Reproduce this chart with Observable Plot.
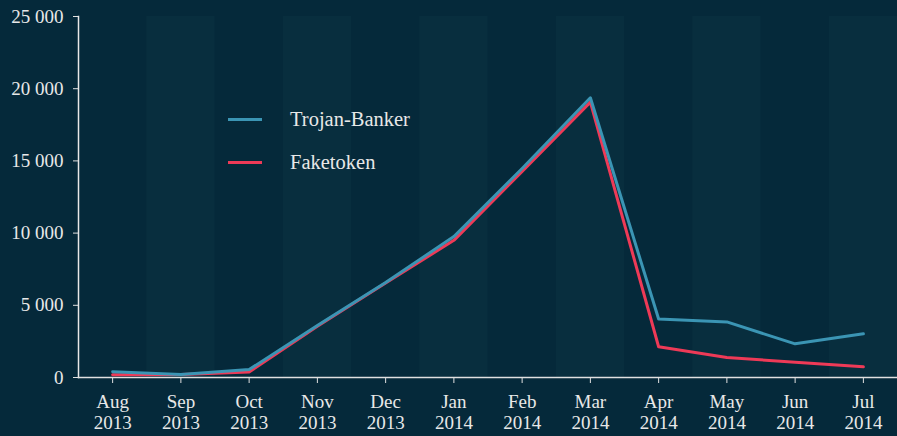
<!DOCTYPE html>
<html>
<head>
<meta charset="utf-8">
<script src="https://cdn.jsdelivr.net/npm/d3@7"></script>
<script src="https://cdn.jsdelivr.net/npm/@observablehq/plot@0.6"></script>
<style>
  html, body { margin: 0; padding: 0; background: #05293a; }
  #wrap { position: relative; width: 897px; height: 436px; overflow: hidden; }
  #legend { position: absolute; left: 228px; top: 98px; font-family: "Liberation Serif", "Times New Roman", serif; font-size: 20.5px; color: #e8e8e8; }
  .row { display: flex; align-items: center; height: 43px; }
  .sw { width: 34px; height: 3px; margin-right: 28px; }
</style>
</head>
<body>
<div id="wrap"></div>
<script>
const months = ["Aug","Sep","Oct","Nov","Dec","Jan","Feb","Mar","Apr","May","Jun","Jul"];
const years  = ["2013","2013","2013","2013","2013","2014","2014","2014","2014","2014","2014","2014"];
const trojanBanker = [400, 200, 550, 3600, 6580, 9760, 14470, 19370, 4050, 3850, 2330, 3030];
const faketoken    = [190, 200, 380, 3550, 6550, 9500, 14270, 19070, 2130, 1390, 1060, 740];
const yTicks = [0, 5000, 10000, 15000, 20000, 25000];
const seriesNames = ["Trojan-Banker", "Faketoken"];
const seriesColors = ["#3b95b4", "#ee3a57"];

const rows = [];
months.forEach((m, i) => {
  rows.push({i, series: seriesNames[1], value: faketoken[i]});
});
months.forEach((m, i) => {
  rows.push({i, series: seriesNames[0], value: trojanBanker[i]});
});
const bands = months.map((m, i) => ({i})).filter(d => d.i % 2 === 1);

const fmt = d3.formatLocale({thousands: " ", grouping: [3], decimal: ",", currency: ["", ""]}).format(",d");

const chart = Plot.plot({
  width: 897,
  height: 436,
  marginTop: 16,
  marginBottom: 59,
  marginLeft: 78,
  marginRight: 0,
  style: {background: "#05293a", fontFamily: "'Liberation Serif', 'Times New Roman', serif", fontSize: "19px", color: "#e8e8e8"},
  x: {domain: [-0.5, months.length - 0.5], axis: null},
  y: {domain: [0, 25000], axis: null},
  color: {domain: seriesNames, range: seriesColors},
  marks: [
    Plot.rect(bands, {x1: d => d.i - 0.5, x2: d => d.i + 0.5, y1: 0, y2: 25000, fill: "#082e3e"}),
    Plot.axisY({ticks: yTicks, tickFormat: fmt, tickSize: 5, tickPadding: 10, stroke: "#e0e0e0", fill: "#e8e8e8", label: null, fontSize: 19}),
    Plot.axisX({ticks: d3.range(months.length), tickFormat: i => months[i] + "\n" + years[i], tickSize: 6, tickPadding: 10, lineHeight: 1.1, stroke: "#e0e0e0", fill: "#e8e8e8", label: null, fontSize: 19}),
    Plot.frame({anchor: "left", stroke: "#e8e8e8", strokeWidth: 1.5}),
    Plot.frame({anchor: "bottom", stroke: "#e0e0e0", strokeWidth: 1.5}),
    Plot.line(rows, {x: "i", y: "value", z: "series", stroke: "series", strokeWidth: 3})
  ]
});
document.getElementById("wrap").appendChild(chart);

const legend = document.createElement("div");
legend.id = "legend";
seriesNames.forEach((name, k) => {
  const r = document.createElement("div");
  r.className = "row";
  const sw = document.createElement("div");
  sw.className = "sw";
  sw.style.background = seriesColors[k];
  const t = document.createElement("span");
  t.textContent = name;
  r.appendChild(sw); r.appendChild(t);
  legend.appendChild(r);
});
document.getElementById("wrap").appendChild(legend);
</script>
</body>
</html>
